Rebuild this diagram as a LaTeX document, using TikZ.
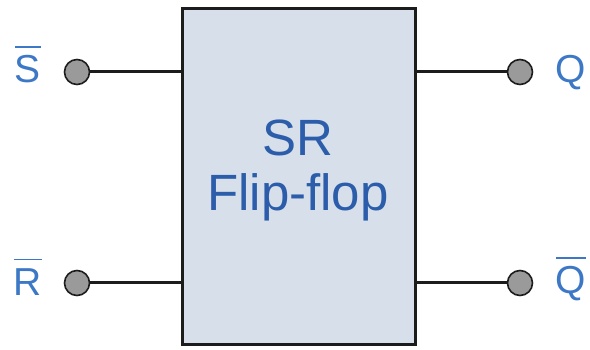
\documentclass[tikz,border=0pt]{standalone}
\usepackage{fontspec}
\setmainfont{Liberation Sans}
\definecolor{boxfill}{HTML}{D6DFEA}
\definecolor{edge}{HTML}{1C1C1C}
\definecolor{pinfill}{HTML}{9A9A9A}
\definecolor{titleblue}{HTML}{2B5DAA}
\definecolor{pinblue}{HTML}{3D78C6}
% a letter with a bar over it (inverted signal)
\newcommand{\barred}[1]{\leavevmode\vbox{\hrule height 1.6pt \kern 8pt \hbox{#1}}}
\begin{document}
\begin{tikzpicture}[x=1pt,y=-1pt,
  flipflop/.style={draw=edge,fill=boxfill,line width=3pt,minimum width=233pt,
    minimum height=336pt,inner sep=0pt},
  pin/.style={circle,draw=edge,fill=pinfill,line width=1.6pt,minimum size=25pt,inner sep=0pt},
  pinlabel/.style={text=pinblue,font=\fontsize{39}{40}\selectfont,inner sep=0pt,anchor=base},
  wire/.style={draw=edge,line width=3pt}]
\useasboundingbox (0,0) rectangle (590,350);
% the flip-flop body and its title
\node[flipflop] (ff) at (298.5,177) {};
\node[text=titleblue,align=center,inner sep=0pt,
  font=\fontsize{51}{55}\selectfont] (title) at (298,170) {SR\\Flip-flop};
% input and output terminals
\node[pin] (s) at (77,72) {};
\node[pin] (r) at (77,283) {};
\node[pin] (q) at (520,72) {};
\node[pin] (qb) at (520,283) {};
% wires from the terminals to the body
\draw[wire] (s.east) -- (s -| ff.west);
\draw[wire] (r.east) -- (r -| ff.west);
\draw[wire] (q.west) -- (q -| ff.east);
\draw[wire] (qb.west) -- (qb -| ff.east);
% terminal names
\node[pinlabel] (sl) at (28,83) {\barred{S}};
\node[pinlabel] (rl) at (28,295) {\barred{R}};
\node[pinlabel] (ql) at (571,83) {Q};
\node[pinlabel] (qbl) at (571,294) {\barred{Q}};
\end{tikzpicture}
\end{document}
